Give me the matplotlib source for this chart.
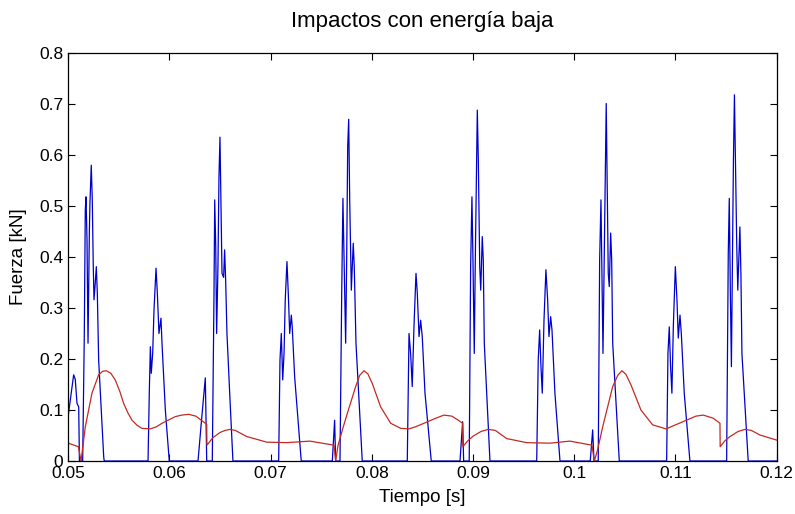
import numpy as np
import matplotlib
matplotlib.use('Agg')
import matplotlib.pyplot as plt

plt.rcParams['font.family'] = ['Liberation Sans', 'DejaVu Sans']

# Blue series: impact force (time [s], force [kN])
t_blue = [0.0500, 0.05053, 0.05069, 0.05086, 0.05103, 0.05110, 0.05142, 0.05158, 0.05168, 0.05175,
          0.05185, 0.05195, 0.05208, 0.05214, 0.05227, 0.05237, 0.05247, 0.05254, 0.05264, 0.05277,
          0.05287, 0.05300, 0.05350, 0.05355,
          0.05788, 0.05801, 0.05811, 0.05820, 0.05834, 0.05847, 0.05867, 0.05880, 0.05896, 0.05916,
          0.05926, 0.05959, 0.05998,
          0.06282, 0.06314, 0.06354, 0.06368, 0.06423, 0.06440, 0.06447, 0.06457, 0.06466, 0.06479,
          0.06489, 0.06499, 0.06509, 0.06519, 0.06535, 0.06545, 0.06555, 0.06568, 0.06595, 0.06627,
          0.07079, 0.07092, 0.07105, 0.07119, 0.07132, 0.07144, 0.07161, 0.07174, 0.07188, 0.07204,
          0.07213, 0.07237, 0.07302,
          0.07609, 0.07632, 0.07642, 0.07685, 0.07702, 0.07714, 0.07724, 0.07741, 0.07751, 0.07761,
          0.07771, 0.07781, 0.07797, 0.07816, 0.07826, 0.07843, 0.07905,
          0.08350, 0.08367, 0.08383, 0.08399, 0.08416, 0.08436, 0.08449, 0.08466, 0.08482, 0.08498,
          0.08525, 0.08587,
          0.08871, 0.08897, 0.08907, 0.08962, 0.08976, 0.08989, 0.08999, 0.09012, 0.09022, 0.09036,
          0.09042, 0.09052, 0.09066, 0.09076, 0.09091, 0.09101, 0.09111, 0.09167,
          0.09629, 0.09644, 0.09658, 0.09671, 0.09684, 0.09701, 0.09720, 0.09737, 0.09750, 0.09767,
          0.09780, 0.09809, 0.09859,
          0.10158, 0.10182, 0.10195, 0.10237, 0.10251, 0.10264, 0.10274, 0.10284, 0.10296, 0.10306,
          0.10316, 0.10326, 0.10336, 0.10346, 0.10360, 0.10370, 0.10380, 0.10445,
          0.10913, 0.10926, 0.10939, 0.10952, 0.10965, 0.10979, 0.10999, 0.11015, 0.11028, 0.11045,
          0.11058, 0.11087, 0.11143,
          0.11506, 0.11522, 0.11532, 0.11542, 0.11553, 0.11563, 0.11573, 0.11583, 0.11593, 0.11606,
          0.11616, 0.11630, 0.11637, 0.11647, 0.11657, 0.11719, 0.12000]
f_blue = [0.090, 0.169, 0.160, 0.113, 0.106, 0.0, 0.0, 0.244, 0.492, 0.518,
          0.433, 0.231, 0.447, 0.506, 0.580, 0.512, 0.381, 0.316, 0.342, 0.381,
          0.329, 0.198, 0.008, 0.0,
          0.0, 0.139, 0.224, 0.172, 0.211, 0.296, 0.378, 0.329, 0.250, 0.280,
          0.231, 0.100, 0.0,
          0.0, 0.074, 0.163, 0.0, 0.0, 0.329, 0.512, 0.420, 0.250, 0.381,
          0.557, 0.635, 0.499, 0.368, 0.360, 0.414, 0.355, 0.250, 0.133, 0.0,
          0.0, 0.198, 0.250, 0.159, 0.211, 0.316, 0.391, 0.329, 0.250, 0.286,
          0.263, 0.165, 0.0,
          0.0, 0.080, 0.0, 0.0, 0.329, 0.515, 0.407, 0.231, 0.394, 0.616,
          0.670, 0.512, 0.335, 0.427, 0.381, 0.231, 0.0,
          0.0, 0.250, 0.211, 0.146, 0.263, 0.368, 0.329, 0.244, 0.276, 0.244,
          0.133, 0.0,
          0.0, 0.077, 0.0, 0.0, 0.381, 0.518, 0.394, 0.211, 0.394, 0.590,
          0.688, 0.590, 0.381, 0.335, 0.440, 0.394, 0.231, 0.0,
          0.0, 0.198, 0.257, 0.185, 0.133, 0.276, 0.375, 0.316, 0.244, 0.283,
          0.257, 0.133, 0.0,
          0.0, 0.061, 0.0, 0.0, 0.394, 0.512, 0.361, 0.211, 0.394, 0.557,
          0.701, 0.538, 0.368, 0.342, 0.447, 0.394, 0.231, 0.0,
          0.0, 0.211, 0.263, 0.185, 0.133, 0.263, 0.381, 0.316, 0.241, 0.286,
          0.250, 0.133, 0.0,
          0.0, 0.407, 0.515, 0.340, 0.185, 0.394, 0.590, 0.718, 0.590, 0.420,
          0.335, 0.420, 0.459, 0.368, 0.211, 0.0, 0.0]

# Red series
t_red = [0.0500, 0.0510, 0.05126, 0.05168, 0.05234, 0.0530, 0.0534, 0.05376, 0.0542, 0.05464,
         0.0551, 0.05547, 0.0559, 0.0563, 0.0568, 0.05728, 0.0581, 0.0587, 0.05926, 0.06057,
         0.0612, 0.0619, 0.0626, 0.06334, 0.06368, 0.06370, 0.0643, 0.0650, 0.0655, 0.06598,
         0.0665, 0.06763, 0.06961, 0.07158, 0.07388, 0.07626, 0.07642, 0.07665, 0.0771, 0.07757,
         0.0784, 0.0788, 0.07922, 0.0796, 0.08004, 0.08087, 0.08186, 0.08285, 0.08367, 0.0843,
         0.08515, 0.0862, 0.08712, 0.0879, 0.08854, 0.08897, 0.08899, 0.0895, 0.09002, 0.0908,
         0.0915, 0.0922, 0.09332, 0.0953, 0.0976, 0.09958, 0.10175, 0.10198, 0.10231, 0.10281,
         0.1038, 0.1043, 0.10471, 0.1051, 0.10561, 0.10659, 0.10774, 0.10906, 0.11038, 0.11203,
         0.11275, 0.11373, 0.1144, 0.11442, 0.1149, 0.11539, 0.1162, 0.11687, 0.1175, 0.11835,
         0.1200]
f_red = [0.035, 0.028, 0.0, 0.067, 0.133, 0.169, 0.176, 0.177, 0.172, 0.159,
         0.136, 0.113, 0.094, 0.080, 0.070, 0.064, 0.063, 0.067, 0.074, 0.087,
         0.090, 0.0915, 0.088, 0.077, 0.072, 0.031, 0.046, 0.056, 0.060, 0.062,
         0.060, 0.048, 0.037, 0.036, 0.039, 0.031, 0.0, 0.030, 0.062, 0.093,
         0.146, 0.168, 0.177, 0.171, 0.152, 0.106, 0.074, 0.064, 0.063, 0.067,
         0.074, 0.083, 0.090, 0.088, 0.080, 0.074, 0.028, 0.040, 0.049, 0.058,
         0.062, 0.060, 0.044, 0.036, 0.035, 0.039, 0.031, 0.0, 0.022, 0.067,
         0.146, 0.168, 0.177, 0.170, 0.149, 0.100, 0.071, 0.063, 0.074, 0.088,
         0.090, 0.084, 0.074, 0.028, 0.040, 0.048, 0.058, 0.062, 0.060, 0.051,
         0.041]

x_ticks = [0.05, 0.06, 0.07, 0.08, 0.09, 0.1, 0.11, 0.12]
x_labels = ['0.05', '0.06', '0.07', '0.08', '0.09', '0.1', '0.11', '0.12']
y_ticks = [0, 0.1, 0.2, 0.3, 0.4, 0.5, 0.6, 0.7, 0.8]
y_labels = ['0', '0.1', '0.2', '0.3', '0.4', '0.5', '0.6', '0.7', '0.8']

fig = plt.figure(figsize=(7.95, 5.14), dpi=100)
ax = fig.add_axes([0.0859, 0.1031, 0.891, 0.7938])

ax.plot(t_blue, f_blue, color='#0000cc', linewidth=0.9)
ax.plot(t_red, f_red, color='#c42a22', linewidth=0.9)

ax.set_xlim(0.05, 0.12)
ax.set_ylim(0, 0.8)
ax.set_xticks(x_ticks)
ax.set_xticklabels(x_labels)
ax.set_yticks(y_ticks)
ax.set_yticklabels(y_labels)
ax.tick_params(direction='in', top=True, right=True, length=5, labelsize=12.5, pad=3.5)
for s in ax.spines.values():
    s.set_linewidth(0.9)

ax.set_xlabel('Tiempo [s]', fontsize=13.5)
ax.xaxis.set_label_coords(0.5, -0.068)
ax.set_ylabel('Fuerza [kN]', fontsize=13.5)
ax.yaxis.set_label_coords(-0.058, 0.5)
ax.set_title('Impactos con energía baja', fontsize=16, pad=19)

fig.savefig('out.png', dpi=100)
